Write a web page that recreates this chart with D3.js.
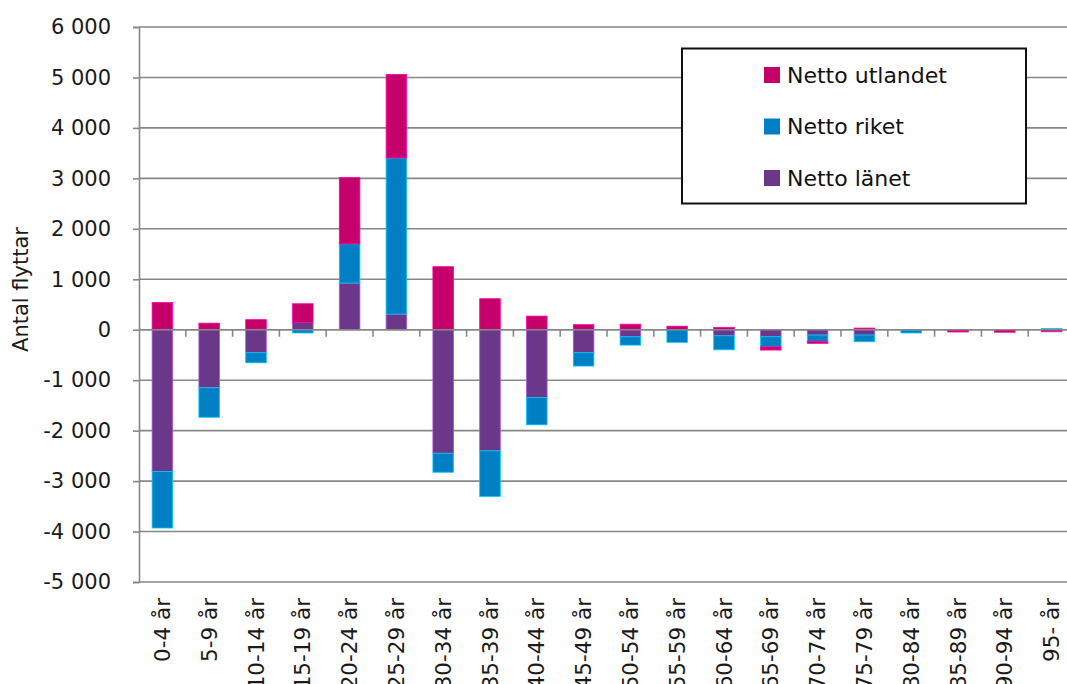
<!DOCTYPE html>
<html>
<head>
<meta charset="utf-8">
<script src="https://cdn.jsdelivr.net/npm/d3@7"></script>
<style>
  body { margin: 0; background: #fff; }
  svg { display: block; font-family: "DejaVu Sans", sans-serif; }
</style>
</head>
<body>
<div id="chart"></div>
<script>
// age groups and net moves per series
var categories = ["0-4 år","5-9 år","10-14 år","15-19 år","20-24 år","25-29 år","30-34 år","35-39 år",
  "40-44 år","45-49 år","50-54 år","55-59 år","60-64 år","65-69 år","70-74 år","75-79 år",
  "80-84 år","85-89 år","90-94 år","95- år"];
var lanet =    [-2810,-1150,-456, 145, 925, 310,-2448,-2400,-1343,-456,-140,  5,-120,-139,-105,-105, -5,  0,  0,  0];
var riket =    [-1120, -585,-200, -65, 775,3095, -377, -905, -542,-264,-165,-250,-278,-198,-125,-133,-60,  0,  0, 25];
var utlandet = [  540,  130, 200, 370,1315,1655, 1250,  615,  270, 100, 110, 65,  47, -66, -40,  33,  0,-45,-50,-40];
var yTicks = [-5000,-4000,-3000,-2000,-1000,0,1000,2000,3000,4000,5000,6000];

var series = [
  {key: "lanet", name: "Netto länet", color: "#6a3789", values: lanet},
  {key: "riket", name: "Netto riket", color: "#007fc4", values: riket},
  {key: "utlandet", name: "Netto utlandet", color: "#c6006b", values: utlandet}
];

var width = 1067, height = 684;
var plotLeft = 139, plotRight = 1075, plotTop = 27, plotBottom = 582;
var gridColor = "#878787";

var rows = categories.map(function(c, i){
  var r = {cat: c};
  series.forEach(function(s){ r[s.key] = s.values[i]; });
  return r;
});

var stacked = d3.stack()
  .keys(series.map(function(s){ return s.key; }))
  .offset(d3.stackOffsetDiverging)(rows);

var x = d3.scaleBand().domain(categories).range([plotLeft, plotRight])
  .paddingInner(0.56).paddingOuter(0.28);
var y = d3.scaleLinear().domain([-5000, 6000]).range([plotBottom, plotTop]);

var svg = d3.select("#chart").append("svg")
  .attr("width", width).attr("height", height);

// gridlines
svg.append("g").selectAll("line").data(yTicks).enter().append("line")
  .attr("x1", plotLeft).attr("x2", width)
  .attr("y1", function(d){ return y(d); }).attr("y2", function(d){ return y(d); })
  .attr("stroke", gridColor).attr("stroke-width", 1.6);

// y axis
var yAxis = svg.append("g")
  .attr("transform", "translate(" + plotLeft + ",0)")
  .call(d3.axisLeft(y).tickValues(yTicks).tickSize(6).tickPadding(22)
    .tickFormat(function(d){ return d3.format(",")(d).replace(/,/g, " ").replace("−", "-"); }));
yAxis.select(".domain").attr("stroke", gridColor).attr("stroke-width", 1.6);
yAxis.selectAll(".tick line").attr("stroke", gridColor).attr("stroke-width", 1.6);
yAxis.selectAll(".tick text").attr("font-size", "21px").attr("fill", "#1a1a1a")
  .attr("font-family", "DejaVu Sans");

svg.append("text")
  .attr("transform", "translate(28," + ((plotTop + plotBottom) / 2 - 15) + ") rotate(-90)")
  .attr("text-anchor", "middle")
  .attr("font-size", "21px").attr("fill", "#1a1a1a")
  .text("Antal flyttar");

// bars
var layers = svg.append("g").selectAll("g").data(stacked).enter().append("g")
  .attr("fill", function(d, i){ return series[i].color; })
  .attr("stroke", function(d, i){ return d3.color(series[i].color).brighter(1.3); })
  .attr("stroke-width", 0.8);

layers.selectAll("rect").data(function(d){ return d; }).enter().append("rect")
  .attr("x", function(d){ return x(d.data.cat); })
  .attr("width", x.bandwidth())
  .attr("y", function(d){ return y(Math.max(d[0], d[1])); })
  .attr("height", function(d){ return Math.abs(y(d[0]) - y(d[1])); });

// zero line on top with category ticks
svg.append("line")
  .attr("x1", plotLeft).attr("x2", width).attr("y1", y(0)).attr("y2", y(0))
  .attr("stroke", gridColor).attr("stroke-width", 1.6);

var step = x.step();
svg.append("g").selectAll("line").data(categories.slice(1)).enter().append("line")
  .attr("x1", function(d){ return x(d) - step * x.paddingInner() / 2; })
  .attr("x2", function(d){ return x(d) - step * x.paddingInner() / 2; })
  .attr("y1", y(0)).attr("y2", y(0) + 7)
  .attr("stroke", gridColor).attr("stroke-width", 1.6);

// x labels
svg.append("g").selectAll("text").data(categories).enter().append("text")
  .attr("transform", function(d){
    return "translate(" + (x(d) + x.bandwidth() / 2) + ",598) rotate(-90)";
  })
  .attr("dy", "0.35em")
  .attr("text-anchor", "end")
  .attr("font-size", "21.5px").attr("fill", "#1a1a1a")
  .text(function(d){ return d; });

// legend
var legend = svg.append("g");
legend.append("rect")
  .attr("x", 682).attr("y", 48.5).attr("width", 344).attr("height", 155)
  .attr("fill", "#fff").attr("stroke", "#111").attr("stroke-width", 2);

var legendItems = legend.selectAll(".item").data(series.slice().reverse()).enter().append("g")
  .attr("class", "item")
  .attr("transform", function(d, i){ return "translate(764," + (75 + i * 51.5) + ")"; });
legendItems.append("rect")
  .attr("x", 0).attr("y", -8).attr("width", 16).attr("height", 16)
  .attr("fill", function(d){ return d.color; });
legendItems.append("text")
  .attr("x", 23).attr("dy", "0.36em")
  .attr("font-size", "22px").attr("fill", "#111")
  .text(function(d){ return d.name; });
</script>
</body>
</html>
